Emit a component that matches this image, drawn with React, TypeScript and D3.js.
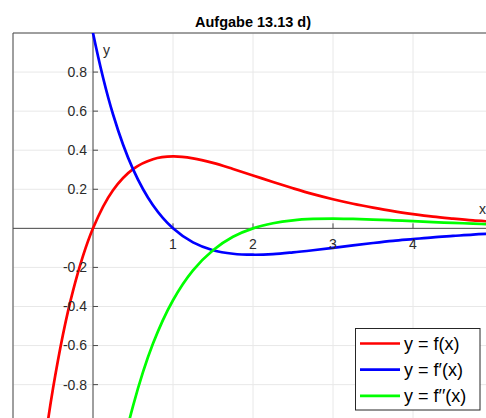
import { useEffect, useRef } from "react";
import * as d3 from "d3";

// values, x from -1 to 5 in steps of 0.25
const xs = [-1, -0.75, -0.5, -0.25, 0, 0.25, 0.5, 0.75, 1, 1.25, 1.5, 1.75, 2, 2.25, 2.5, 2.75, 3, 3.25, 3.5, 3.75, 4, 4.25, 4.5, 4.75, 5];
const fVals = [-2.72, -1.59, -0.82, -0.32, 0, 0.195, 0.303, 0.354, 0.368, 0.358, 0.335, 0.304, 0.271, 0.237, 0.205, 0.175, 0.149, 0.126, 0.106, 0.088, 0.073, 0.06, 0.05, 0.041, 0.034];
const df1Vals = [5.44, 3.7, 2.47, 1.6, 1.0, 0.584, 0.303, 0.118, 0, -0.072, -0.112, -0.13, -0.135, -0.132, -0.123, -0.112, -0.1, -0.087, -0.075, -0.064, -0.055, -0.046, -0.039, -0.032, -0.027];
const df2Vals = [-8.15, -5.82, -4.12, -2.89, -2.0, -1.363, -0.91, -0.59, -0.368, -0.215, -0.112, -0.043, 0, 0.026, 0.041, 0.048, 0.05, 0.048, 0.045, 0.041, 0.037, 0.032, 0.028, 0.024, 0.02];

const xTicks = [1, 2, 3, 4];
const yTicks = [-0.8, -0.6, -0.4, -0.2, 0.2, 0.4, 0.6, 0.8];
const yTickLabels = ["-0.8", "-0.6", "-0.4", "-0.2", "0.2", "0.4", "0.6", "0.8"];
const xGrid = [-1, 0, 1, 2, 3, 4, 5];
const yGrid = [-1, -0.8, -0.6, -0.4, -0.2, 0, 0.2, 0.4, 0.6, 0.8, 1];

const series = [
    { name: "y = f(x)", values: fVals, color: "#ff0000" },
    { name: "y = f\u2032(x)", values: df1Vals, color: "#0000ff" },
    { name: "y = f\u2032\u2032(x)", values: df2Vals, color: "#00ff00" },
];

export default function App() {
    const svgRef = useRef<SVGSVGElement>(null);

    useEffect(() => {
        if (!svgRef.current) return;
        const W = 486;
        const H = 418;
        const left = 13, right = 493, top = 33, bottom = 423.7;
        const font = "'Liberation Sans', Arial, Helvetica, sans-serif";

        const svg = d3.select(svgRef.current);
        svg.selectAll("*").remove();
        svg.attr("width", W).attr("height", H);

        const x = d3.scaleLinear().domain([-1, 5]).range([left, right]);
        const y = d3.scaleLinear().domain([-1, 1]).range([bottom, top]);

        svg.append("rect").attr("width", W).attr("height", H).attr("fill", "#fff");

        svg.append("defs").append("clipPath").attr("id", "plot")
            .append("rect")
            .attr("x", left).attr("y", top)
            .attr("width", right - left).attr("height", bottom - top);

        // grid
        const grid = svg.append("g").attr("stroke", "#e8e8e8").attr("stroke-width", 1);
        xGrid.forEach((v) => {
            grid.append("line").attr("x1", x(v)).attr("x2", x(v)).attr("y1", top).attr("y2", bottom);
        });
        yGrid.forEach((v) => {
            grid.append("line").attr("x1", left).attr("x2", right).attr("y1", y(v)).attr("y2", y(v));
        });

        // box
        svg.append("path")
            .attr("d", `M${left},${bottom}V${top}H${right}`)
            .attr("fill", "none").attr("stroke", "#4a4a4a").attr("stroke-width", 1);

        // axes through origin
        const ax = svg.append("g").attr("stroke", "#4a4a4a").attr("stroke-width", 1);
        ax.append("line").attr("x1", left).attr("x2", right).attr("y1", y(0)).attr("y2", y(0));
        ax.append("line").attr("x1", x(0)).attr("x2", x(0)).attr("y1", top).attr("y2", bottom);
        xTicks.forEach((v) => {
            ax.append("line").attr("x1", x(v)).attr("x2", x(v)).attr("y1", y(0)).attr("y2", y(0) - 5);
        });
        yTicks.forEach((v) => {
            ax.append("line").attr("x1", x(0)).attr("x2", x(0) + 5).attr("y1", y(v)).attr("y2", y(v));
        });

        // curves
        const line = d3.line<number>()
            .x((_, i) => x(xs[i]))
            .y((d) => y(d))
            .curve(d3.curveCatmullRom);

        const curves = svg.append("g").attr("clip-path", "url(#plot)");
        series.forEach((s) => {
            curves.append("path")
                .datum(s.values)
                .attr("fill", "none")
                .attr("stroke", s.color)
                .attr("stroke-width", 2.7)
                .attr("d", line);
        });

        // tick labels
        const labels = svg.append("g").attr("font-family", font).attr("font-size", 14).attr("fill", "#2b2b2b");
        yTicks.forEach((v, i) => {
            labels.append("text")
                .attr("x", x(0) - 6).attr("y", y(v)).attr("dy", "0.35em")
                .attr("text-anchor", "end")
                .text(yTickLabels[i]);
        });
        xTicks.forEach((v) => {
            labels.append("text")
                .attr("x", x(v)).attr("y", y(0) + 21)
                .attr("text-anchor", "middle")
                .text(String(v));
        });
        labels.append("text").attr("x", x(0) + 10).attr("y", top + 22).text("y");
        labels.append("text").attr("x", right - 14).attr("y", y(0) - 14).text("x");

        // title
        svg.append("text")
            .attr("x", (left + right) / 2).attr("y", 27)
            .attr("text-anchor", "middle")
            .attr("font-family", font).attr("font-size", 14.5).attr("font-weight", "bold")
            .attr("fill", "#000")
            .text("Aufgabe 13.13 d)");

        // legend
        const lg = svg.append("g").attr("transform", "translate(355.5,328.5)");
        lg.append("rect").attr("width", 124.5).attr("height", 81.5)
            .attr("fill", "#fff").attr("stroke", "#262626").attr("stroke-width", 1);
        series.forEach((s, i) => {
            const ly = 15 + i * 26.2;
            lg.append("line").attr("x1", 4.5).attr("x2", 44.5).attr("y1", ly).attr("y2", ly)
                .attr("stroke", s.color).attr("stroke-width", 2.7);
            lg.append("text").attr("x", 48.5).attr("y", ly).attr("dy", "0.35em")
                .attr("font-family", font).attr("font-size", 18).attr("fill", "#000")
                .text(s.name);
        });
    }, []);

    return <svg ref={svgRef} style={{ position: "absolute", left: 0, top: 0 }} />;
}
